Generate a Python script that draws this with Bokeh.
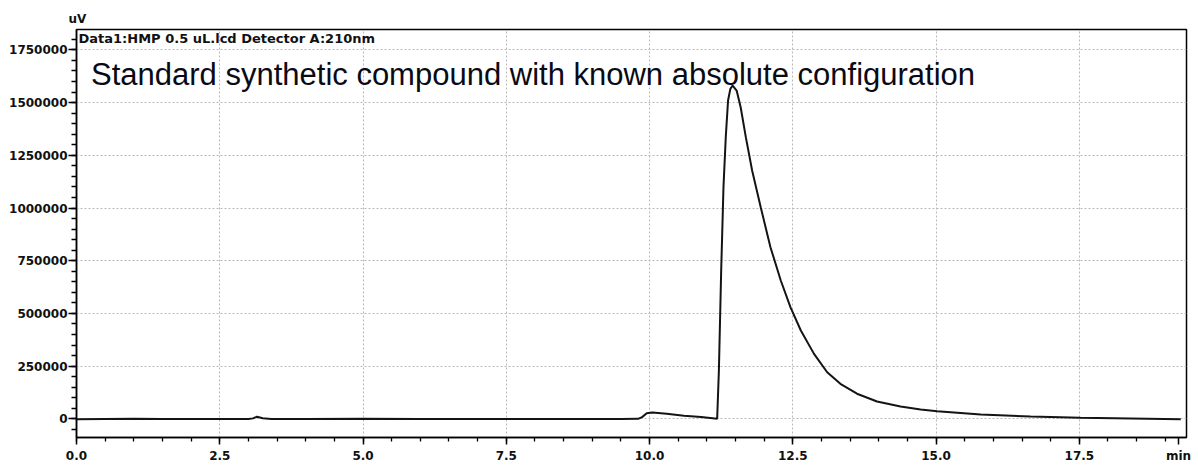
from bokeh.plotting import figure
from bokeh.models import (Label, Title, SingleIntervalTicker, FixedTicker, Range1d,
                          NumeralTickFormatter)
from bokeh.embed import file_html
from bokeh.resources import INLINE

# Retention time (min)
time_min = [0.0, 0.5, 1.0, 1.5, 2.0, 2.5, 3.0, 3.08, 3.15, 3.25, 3.4, 4.0, 5.0, 6.0,
            7.0, 8.0, 9.0, 9.5, 9.8, 9.87, 9.95, 10.05, 10.3, 10.6, 10.9, 11.18,
            11.21, 11.25, 11.29, 11.33, 11.37, 11.41, 11.45, 11.52, 11.59, 11.68,
            11.79, 11.94, 12.11, 12.29, 12.46, 12.64, 12.87, 13.10, 13.33, 13.62,
            13.97, 14.38, 14.73, 15.02, 15.78, 16.65, 17.52, 18.4, 19.27]
# Detector signal (uV)
signal_uv = [-2000, -1000, 0, -1500, -500, -1000, -500, 2000, 10000, 3000, -1000, -500, 0, -1000,
             -500, -1500, -1000, -500, 0, 8000, 26000, 30000, 24000, 15000, 8000, 0,
             229000, 703000, 1099000, 1336000, 1510000, 1565000, 1581000, 1557000, 1478000, 1336000,
             1178000, 1004000, 814000, 656000, 529000, 419000, 308000, 221000, 166000, 119000,
             82000, 58000, 44000, 36000, 20000, 11000, 5000, 2000, -2000]

x_major_ticks = [0.0, 2.5, 5.0, 7.5, 10.0, 12.5, 15.0, 17.5]
x_minor_ticks = [i * 0.5 for i in range(0, 39)]
x_unit_pos = 19.23
y_tick_interval = 250000

header_text = "Data1:HMP 0.5 uL.lcd Detector A:210nm"
title_text = "Standard synthetic compound with known absolute configuration"
y_unit = "uV"
x_unit = "min"

p = figure(width=1198, height=468,
           x_range=Range1d(0, 19.37), y_range=Range1d(-88700, 1846800),
           output_backend="svg", toolbar_location=None,
           min_border_left=76, min_border_right=12, min_border_top=29, min_border_bottom=31)

p.background_fill_color = "white"
p.border_fill_color = "white"
p.outline_line_color = "black"
p.outline_line_width = 1.5
p.outline_line_alpha = 1.0

p.xaxis.ticker = FixedTicker(ticks=x_major_ticks + [x_unit_pos], minor_ticks=x_minor_ticks)
p.xaxis.major_label_overrides = {x_unit_pos: x_unit}
p.yaxis.ticker = SingleIntervalTicker(interval=y_tick_interval, num_minor_ticks=5)
p.xaxis.formatter = NumeralTickFormatter(format="0.0")
p.yaxis.formatter = NumeralTickFormatter(format="0")
p.xgrid.ticker = FixedTicker(ticks=x_major_ticks)

for ax in (p.xaxis, p.yaxis):
    ax.axis_line_color = "black"
    ax.axis_line_width = 1.5
    ax.major_tick_line_color = "black"
    ax.major_tick_line_width = 1.5
    ax.minor_tick_line_color = "black"
    ax.minor_tick_line_width = 1.3
    ax.major_tick_in = 0
    ax.minor_tick_in = 0
    ax.major_label_text_font = "DejaVu Sans"
    ax.major_label_text_font_style = "bold"
    ax.major_label_text_font_size = "12px"
    ax.major_label_text_color = "#111111"

p.xaxis.major_tick_out = 7
p.xaxis.minor_tick_out = 4
p.xaxis.major_label_standoff = 4
p.yaxis.major_tick_out = 8
p.yaxis.minor_tick_out = 5
p.yaxis.major_label_standoff = 1

for g in (p.xgrid, p.ygrid):
    g.grid_line_color = "#b8b8b8"
    g.grid_line_dash = "2 2"
    g.grid_line_width = 1

p.line(time_min, signal_uv, line_color="#141414", line_width=2)

p.add_layout(Title(text=y_unit, align="left", offset=-8, standoff=8,
                   text_font="DejaVu Sans", text_font_style="bold",
                   text_font_size="12px", text_color="#111111"), "above")
p.add_layout(Label(x=0.035, y=1802700, text=header_text, text_font="DejaVu Sans",
                   text_font_style="bold", text_font_size="13px", text_color="#111111",
                   text_baseline="alphabetic", text_align="left"))
p.add_layout(Label(x=0.253, y=1633400, text=title_text, text_font="Liberation Sans",
                   text_font_size="31px", text_color="#0a0a14",
                   text_baseline="alphabetic", text_align="left"))

open("out.html", "w").write(file_html(p, INLINE))
